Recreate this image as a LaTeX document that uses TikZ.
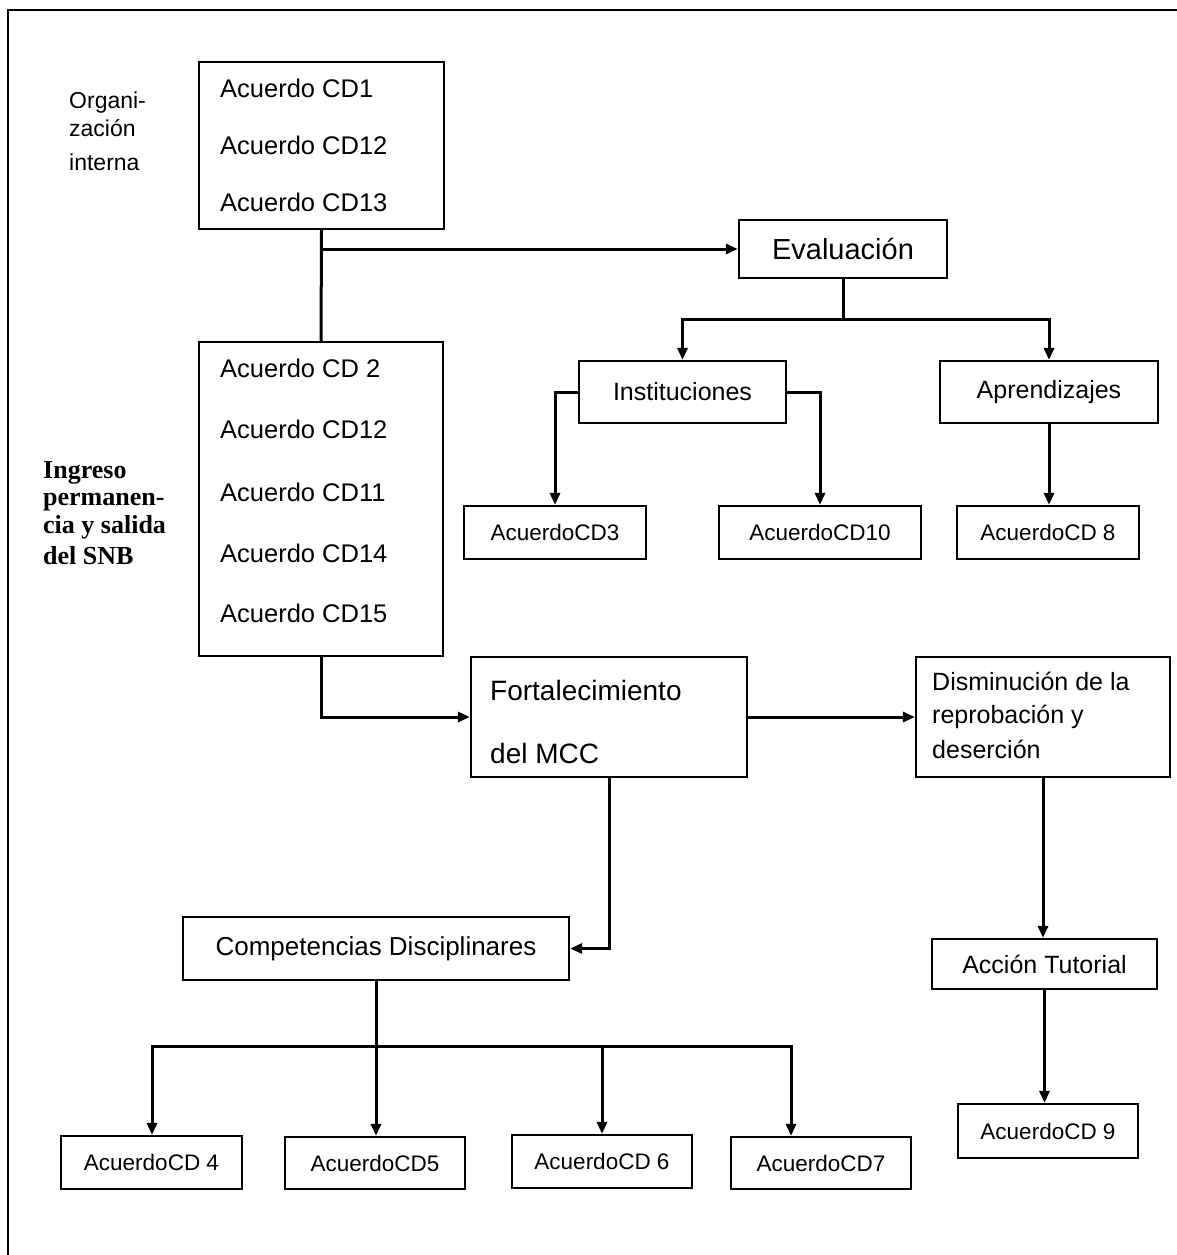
\documentclass[tikz,border=0pt]{standalone}
\usepackage{fontspec}
\setmainfont{Liberation Sans}
\newfontfamily\sideserif{Liberation Serif}
\usetikzlibrary{arrows.meta,positioning}
\tikzset{
  box/.style={
    draw,
    line width=2.2pt,
    inner sep=0pt,
    shape=rectangle
  },
  conn/.style={
    line width=3pt,
    line cap=rect
  },
  arr/.style={
    conn,
    -{Triangle[length=12pt,width=10pt]}
  },
  frame/.style={
    line width=2.2pt
  },
}
\tikzset{
  listtxt/.style={
    font=\fontsize{25.5}{30}\selectfont,
    inner sep=0pt,
    anchor=base west
  },
  head/.style={
    font=\fontsize{29}{34}\selectfont
  },
  sub/.style={
    font=\fontsize{25}{30}\selectfont
  },
  acu/.style={
    font=\fontsize{22.5}{27}\selectfont
  },
  side/.style={
    font=\fontsize{23}{27}\selectfont,
    inner sep=0pt,
    anchor=base west
  },
  sidebold/.style={
    font=\sideserif\bfseries\fontsize{26}{28.5}\selectfont,
    inner sep=0pt,
    anchor=base west
  },
}
\begin{document}
\begin{tikzpicture}[x=1pt,y=-1pt]
  \useasboundingbox (0,0) rectangle (1176,1255);
  \draw[frame] (1200,10) -- (8,10) -- (8,1280);

  \node[box,minimum width=245pt,minimum height=167pt] (boxA) at (321.5,145.5) {};
  \foreach \t/\y [count=\i] in {Acuerdo CD1/97,Acuerdo CD12/154,Acuerdo CD13/211}
    \node[listtxt] (a\i) at (220,\y) {\t};
  \foreach \t/\y [count=\i] in {Organi-/108,zación/136,interna/170}
    \node[side] (org\i) at (69,\y) {\t};

  \node[box,minimum width=244pt,minimum height=314pt] (boxB) at (321,499) {};
  \foreach \t/\y [count=\i] in {Acuerdo CD 2/377,Acuerdo CD12/438,Acuerdo CD11/501,Acuerdo CD14/562,Acuerdo CD15/622}
    \node[listtxt] (b\i) at (220,\y) {\t};
  \foreach \t/\y [count=\i] in {Ingreso/478,permanen-/505,cia y salida/533,del SNB/564}
    \node[sidebold] (ing\i) at (43,\y) {\t};

  \node[box,head,minimum width=208pt,minimum height=58pt] (eval) at (843,249) {Evaluación};
  \node[box,sub,minimum width=207pt,minimum height=62pt] (inst) at (682.5,392) {Instituciones};
  \node[box,sub,minimum width=218pt,minimum height=62pt] (apr) at (1049,392) {Aprendizajes};
  \node[box,acu,minimum width=182pt,minimum height=53pt] (cd3) at (555,532.5) {AcuerdoCD3};
  \node[box,acu,minimum width=202pt,minimum height=53pt] (cd10) at (820,532.5) {AcuerdoCD10};
  \node[box,acu,minimum width=182pt,minimum height=53pt] (cd8) at (1048,532.5) {AcuerdoCD 8};

  \node[box,minimum width=276pt,minimum height=120pt] (fort) at (609,717) {};
  \node[listtxt,font=\fontsize{28}{32}\selectfont] (fort1) at (490,700) {Fortalecimiento};
  \node[listtxt,font=\fontsize{28}{32}\selectfont] (fort2) at (490,763) {del MCC};

  \node[box,minimum width=254pt,minimum height=120pt] (dism) at (1043,717) {};
  \foreach \t/\y [count=\i] in {Disminución de la/690,reprobación y/723,deserción/758}
    \node[listtxt,font=\fontsize{25}{30}\selectfont] (dism\i) at (932,\y) {\t};

  \node[box,font=\fontsize{26}{30}\selectfont,minimum width=386pt,minimum height=63pt] (comp) at (376,948.5) {Competencias Disciplinares};
  \node[box,sub,minimum width=225pt,minimum height=50pt] (acc) at (1044.5,964) {Acción Tutorial};
  \node[box,acu,minimum width=180pt,minimum height=54pt] (cd9) at (1048,1131) {AcuerdoCD 9};

  \node[box,acu,minimum width=181pt,minimum height=53pt] (cd4) at (151.5,1162.5) {AcuerdoCD 4};
  \node[box,acu,minimum width=180pt,minimum height=52pt] (cd5) at (375,1163) {AcuerdoCD5};
  \node[box,acu,minimum width=180pt,minimum height=53pt] (cd6) at (602,1161.5) {AcuerdoCD 6};
  \node[box,acu,minimum width=180pt,minimum height=52pt] (cd7) at (821,1163) {AcuerdoCD7};

  \draw[conn] (boxA.south) -- (boxB.north);
  \draw[arr] (boxA.south |- eval.west) -- (eval.west);
  \draw[conn] (eval.south) -- ++(0,40) coordinate (evbus);
  \draw[arr] (evbus) -| (inst.north);
  \draw[arr] (evbus) -| (apr.north);
  \draw[arr] (inst.west) -| (cd3.north);
  \draw[arr] (inst.east) -| (cd10.north);
  \draw[arr] (apr.south) -- (apr.south |- cd8.north);

  \draw[arr] (boxB.south) |- (fort.west);
  \draw[arr] (fort.east) -- (dism.west);
  \draw[arr] (fort.south) |- (comp.east);
  \draw[arr] (dism.south) -- (dism.south |- acc.north);
  \draw[arr] (acc.south) -- (acc.south |- cd9.north);

  \draw[conn] (comp.south) -- ++(0,66) coordinate (cbus);
  \foreach \n/\x in {4/152,5/376,6/602,7/791}{
    \coordinate (bus\n) at (\x,1046);
    \draw[arr] (bus\n) -- (bus\n |- cd\n.north);
  }
  \draw[conn] (bus4) -- (bus7);
\end{tikzpicture}
\end{document}
